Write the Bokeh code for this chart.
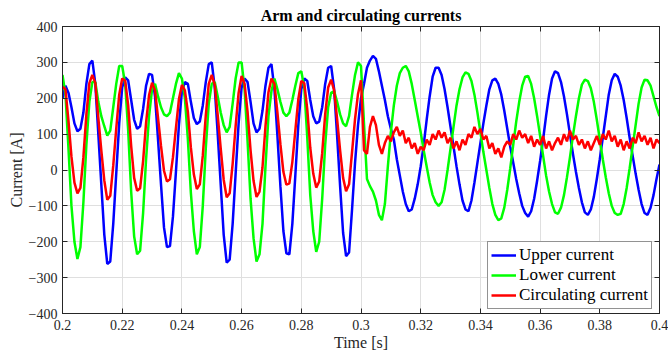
from bokeh.plotting import figure
from bokeh.models import (FixedTicker, LinearAxis, CustomJSTickFormatter, Legend,
                          LegendItem, Range1d)
from bokeh.embed import file_html
from bokeh.resources import INLINE

# ---------------- data ----------------
# sample instants: every 1 ms from 0.200 s to 0.400 s
time_s = [round(0.2 + 0.001 * i, 3) for i in range(201)]

upper_current = [
    200, 235, 215, 175, 130, 108, 115, 160, 240, 295,
    305, 240, 100, -40, -180, -262, -255, -150, -10, 130,
    230, 258, 250, 195, 140, 115, 122, 170, 235, 268,
    265, 205, 85, -40, -160, -215, -212, -130, -5, 125,
    220, 245, 240, 190, 145, 128, 135, 180, 245, 295,
    300, 230, 100, -40, -180, -258, -250, -150, -10, 130,
    230, 255, 245, 190, 130, 105, 115, 165, 235, 285,
    295, 225, 95, -45, -170, -232, -235, -150, -15, 125,
    225, 255, 248, 195, 150, 130, 135, 175, 240, 285,
    290, 225, 95, -45, -175, -240, -230, -110, 20, 125,
    200, 240, 285, 305, 318, 310, 275, 235, 195, 150,
    115, 85, 30, -15, -60, -95, -115, -110, -80, -40,
    10, 70, 140, 205, 260, 285, 285, 265, 225, 175,
    120, 65, 10, -40, -85, -110, -115, -85, -35, 20,
    75, 130, 180, 225, 250, 255, 240, 210, 165, 115,
    65, 20, -25, -65, -100, -120, -130, -115, -80, -30,
    25, 85, 150, 210, 255, 275, 270, 245, 205, 155,
    100, 45, -5, -50, -90, -118, -125, -110, -75, -25,
    30, 90, 150, 210, 250, 268, 260, 235, 195, 145,
    90, 40, -10, -55, -95, -120, -125, -105, -70, -25,
    15,
]

lower_current = [
    265, 210, 60, -100, -200, -248, -215, -90, 70, 190,
    245, 245, 190, 150, 122, 96, 110, 175, 240, 290,
    290, 240, 110, -60, -185, -235, -225, -120, 30, 150,
    225, 240, 205, 175, 155, 150, 160, 200, 240, 270,
    255, 200, 85, -63, -170, -235, -215, -100, 60, 185,
    240, 245, 205, 160, 125, 105, 120, 185, 255, 300,
    300, 225, 80, -80, -190, -255, -235, -150, 10, 150,
    220, 255, 225, 190, 160, 150, 160, 195, 235, 270,
    275, 230, 90, -70, -170, -228, -200, -80, 70, 175,
    215, 220, 190, 155, 130, 122, 150, 210, 265, 300,
    290, 130, -25, -45, -60, -85, -125, -140, -95, 10,
    105, 180, 235, 270, 285, 290, 275, 240, 195, 150,
    105, 55, 10, -35, -70, -90, -100, -90, -55, 0,
    60, 120, 180, 225, 258, 272, 268, 248, 210, 160,
    105, 50, 0, -50, -95, -125, -140, -135, -105, -55,
    5, 70, 135, 190, 235, 260, 262, 240, 200, 150,
    95, 40, -15, -60, -95, -118, -122, -105, -70, -20,
    35, 95, 150, 200, 238, 252, 248, 228, 190, 140,
    85, 30, -20, -65, -100, -120, -125, -122, -95, -50,
    5, 65, 125, 185, 230, 252, 250, 235, 205, 175,
    150,
]

circulating_current = [
    232, 225, 137, 37, -35, -65, -50, 35, 155, 242,
    265, 242, 145, 55, -29, -83, -72, 12, 115, 210,
    255, 249, 180, 67, -22, -58, -51, 25, 132, 209,
    243, 222, 145, 67, -2, -32, -26, 35, 117, 197,
    237, 222, 162, 63, -12, -53, -40, 40, 152, 240,
    265, 237, 152, 60, -27, -76, -65, 17, 122, 215,
    262, 240, 162, 55, -30, -75, -60, 7, 122, 217,
    255, 240, 160, 72, -5, -41, -37, 22, 110, 197,
    248, 242, 169, 62, -10, -49, -32, 47, 155, 230,
    252, 222, 142, 55, -22, -59, -40, 50, 142, 212,
    250, 55, 45, 120, 150, 125, 70, 45, 75, 95,
    80, 105, 120, 95, 110, 75, 90, 60, 75, 45,
    65, 55, 85, 70, 100, 85, 110, 90, 105, 75,
    90, 60, 80, 55, 85, 70, 100, 90, 120, 100,
    115, 85, 95, 60, 75, 45, 60, 35, 65, 80,
    70, 100, 85, 110, 90, 100, 75, 95, 65, 85,
    70, 95, 60, 80, 55, 75, 90, 70, 100, 80,
    110, 85, 95, 70, 85, 60, 80, 55, 75, 95,
    70, 100, 85, 110, 80, 95, 65, 85, 55, 80,
    60, 90, 75, 105, 80, 95, 70, 90, 60, 85,
    75,
]

x_ticks = [0.2, 0.22, 0.24, 0.26, 0.28, 0.3, 0.32, 0.34, 0.36, 0.38, 0.4]
y_ticks = [-400, -300, -200, -100, 0, 100, 200, 300, 400]

series_names = ["Upper current", "Lower current", "Circulating current"]
series_colors = ["#0000ff", "#00ff00", "#ff0000"]

# ---------------- figure ----------------
SERIF = "Liberation Serif"
AX = "#262626"

p = figure(width=668, height=353,
           x_range=Range1d(0.2, 0.4), y_range=Range1d(-400, 400),
           output_backend="svg", toolbar_location=None,
           min_border_left=62, min_border_right=9,
           min_border_top=26, min_border_bottom=39)
p.background_fill_color = "white"
p.border_fill_color = "white"
p.outline_line_color = AX
p.outline_line_width = 1

p.title.text = "Arm and circulating currents"
p.title.text_font = SERIF
p.title.text_font_style = "bold"
p.title.text_font_size = "16px"
p.title.text_color = "black"
p.title.align = "center"
p.title.standoff = 6

fmt = CustomJSTickFormatter(code="return tick.toFixed(2).replace(/0$/, '');")

def style_axis(ax, labels=True):
    ax.axis_line_color = AX
    ax.major_tick_line_color = AX
    ax.major_tick_in = 5
    ax.major_tick_out = 0
    ax.minor_tick_in = 0
    ax.minor_tick_out = 0
    ax.minor_tick_line_color = None
    if labels:
        ax.major_label_text_font = SERIF
        ax.major_label_text_font_size = "14px"
        ax.major_label_text_color = AX
        ax.axis_label_text_font = SERIF
        ax.axis_label_text_font_size = "16px"
        ax.axis_label_text_font_style = "normal"
        ax.axis_label_text_color = AX
    else:
        ax.major_label_text_font_size = "0px"
        ax.major_label_text_color = None
        ax.major_label_standoff = 0

xa = p.xaxis[0]
xa.ticker = FixedTicker(ticks=x_ticks)
xa.formatter = fmt
xa.axis_label = "Time [s]"
xa.major_label_standoff = 6
xa.axis_label_standoff = 1
style_axis(xa)

ya = p.yaxis[0]
ya.ticker = FixedTicker(ticks=y_ticks)
ya.axis_label = "Current [A]"
ya.major_label_standoff = 5
ya.axis_label_standoff = 1
style_axis(ya)

top = LinearAxis(ticker=FixedTicker(ticks=x_ticks))
style_axis(top, labels=False)
p.add_layout(top, "above")
right = LinearAxis(ticker=FixedTicker(ticks=y_ticks))
style_axis(right, labels=False)
p.add_layout(right, "right")

p.xgrid.ticker = FixedTicker(ticks=x_ticks)
p.ygrid.ticker = FixedTicker(ticks=y_ticks)
for g in (p.xgrid, p.ygrid):
    g.grid_line_color = "#dfdfdf"
    g.grid_line_width = 1

series = [upper_current, lower_current, circulating_current]
renderers = []
for vals, col in zip(series, series_colors):
    r = p.line(time_s, vals, line_color=col, line_width=2.5)
    renderers.append(r)

legend = Legend(items=[LegendItem(label=n, renderers=[r])
                       for n, r in zip(series_names, renderers)],
                location=(425, 4))
legend.margin = 0
legend.padding = 3
legend.spacing = 0
legend.glyph_width = 25
legend.glyph_height = 16
legend.label_height = 18
legend.label_standoff = 3
legend.label_text_font = SERIF
legend.label_text_font_size = "17px"
legend.label_text_color = "black"
legend.border_line_color = AX
legend.border_line_width = 1
legend.background_fill_color = "white"
legend.background_fill_alpha = 1
p.add_layout(legend)

open("out.html", "w").write(file_html(p, INLINE))
